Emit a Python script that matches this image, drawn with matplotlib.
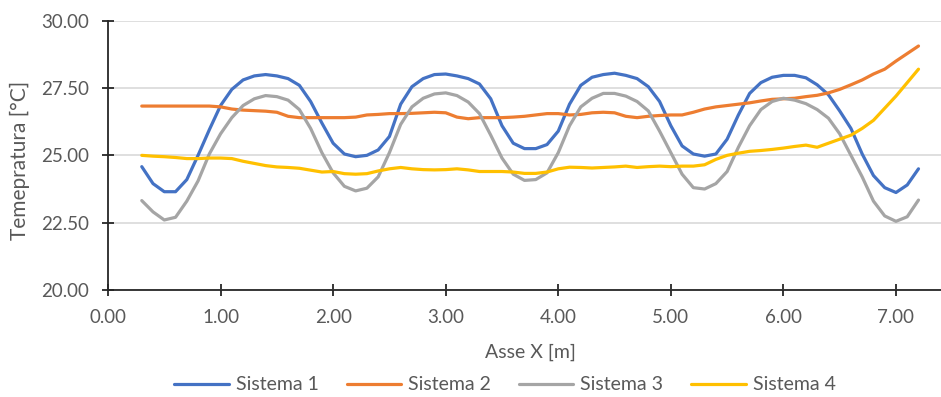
import numpy as np
import matplotlib.pyplot as plt

# ---------- Data ----------
x_m = np.round(np.arange(0.3, 7.21, 0.1), 2)

sistema_1 = [24.58, 23.95, 23.65, 23.65, 24.10, 25.00, 25.95, 26.85, 27.45, 27.80,
             27.95, 28.00, 27.95, 27.85, 27.60, 27.00, 26.20, 25.45, 25.05, 24.95,
             25.00, 25.20, 25.70, 26.90, 27.55, 27.85, 28.00, 28.02, 27.95, 27.85,
             27.65, 27.10, 26.10, 25.45, 25.25, 25.25, 25.40, 25.90, 26.90, 27.60,
             27.90, 28.00, 28.05, 27.97, 27.85, 27.55, 27.00, 26.10, 25.35, 25.05,
             24.97, 25.05, 25.60, 26.50, 27.30, 27.70, 27.90, 27.97, 27.97, 27.88,
             27.62, 27.25, 26.65, 26.00, 25.05, 24.25, 23.80, 23.62, 23.90, 24.50]

sistema_2 = [26.83, 26.83, 26.83, 26.83, 26.83, 26.83, 26.83, 26.80, 26.72, 26.68,
             26.66, 26.64, 26.60, 26.45, 26.40, 26.40, 26.40, 26.40, 26.40, 26.42,
             26.50, 26.52, 26.55, 26.55, 26.56, 26.58, 26.60, 26.58, 26.42, 26.36,
             26.40, 26.40, 26.40, 26.42, 26.45, 26.50, 26.55, 26.55, 26.50, 26.52,
             26.58, 26.60, 26.58, 26.45, 26.40, 26.45, 26.48, 26.50, 26.50, 26.60,
             26.72, 26.80, 26.85, 26.90, 26.95, 27.02, 27.08, 27.10, 27.12, 27.18,
             27.23, 27.32, 27.45, 27.62, 27.80, 28.02, 28.20, 28.50, 28.78, 29.06]

sistema_3 = [23.32, 22.90, 22.60, 22.70, 23.30, 24.05, 25.05, 25.80, 26.40, 26.85,
             27.10, 27.22, 27.18, 27.05, 26.70, 26.00, 25.10, 24.35, 23.85, 23.68,
             23.78, 24.20, 25.10, 26.15, 26.80, 27.12, 27.28, 27.32, 27.22, 26.98,
             26.55, 25.75, 24.90, 24.30, 24.07, 24.10, 24.35, 25.10, 26.10, 26.80,
             27.12, 27.30, 27.30, 27.20, 27.00, 26.65, 25.90, 25.10, 24.30, 23.80,
             23.75, 23.95, 24.40, 25.30, 26.10, 26.70, 27.00, 27.12, 27.05, 26.92,
             26.70, 26.38, 25.80, 25.00, 24.20, 23.30, 22.75, 22.55, 22.72, 23.34]

sistema_4 = [25.00, 24.97, 24.95, 24.92, 24.88, 24.88, 24.90, 24.90, 24.88, 24.78,
             24.70, 24.62, 24.57, 24.55, 24.52, 24.45, 24.38, 24.40, 24.32, 24.30,
             24.32, 24.42, 24.50, 24.55, 24.50, 24.47, 24.46, 24.47, 24.50, 24.46,
             24.40, 24.40, 24.40, 24.38, 24.33, 24.33, 24.38, 24.50, 24.56, 24.55,
             24.53, 24.55, 24.57, 24.60, 24.55, 24.58, 24.60, 24.58, 24.60, 24.60,
             24.65, 24.85, 25.00, 25.08, 25.15, 25.18, 25.22, 25.27, 25.33, 25.38,
             25.30, 25.45, 25.60, 25.75, 26.00, 26.30, 26.75, 27.20, 27.70, 28.20]

series_names = ["Sistema 1", "Sistema 2", "Sistema 3", "Sistema 4"]
x_ticks = [0, 1, 2, 3, 4, 5, 6, 7]
y_ticks = [20.0, 22.5, 25.0, 27.5, 30.0]

# ---------- Style ----------
COLORS = ["#4472C4", "#ED7D31", "#A5A5A5", "#FFC000"]
TEXT_C = "#595959"
AXIS_C = "#262626"
plt.rcParams['font.family'] = ['Lato', 'DejaVu Sans']

fig = plt.figure(figsize=(9.41, 3.97), dpi=100)
ax = fig.add_axes([108 / 941, 1 - 290 / 397, 1 - 108 / 941, (290 - 20.7) / 397])

for ys, name, c in zip([sistema_1, sistema_2, sistema_3, sistema_4], series_names, COLORS):
    ax.plot(x_m, ys, color=c, lw=2.3, label=name,
            solid_capstyle='round', solid_joinstyle='round')

ax.set_xlim(0, 7.4)
ax.set_ylim(20, 30)
ax.set_xticks(x_ticks)
ax.set_yticks(y_ticks)
ax.set_xticklabels([f"{v:.2f}" for v in x_ticks])
ax.set_yticklabels([f"{v:.2f}" for v in y_ticks])

ax.grid(axis='y', color="#D9D9D9", lw=1.2)
ax.set_axisbelow(True)
for s in ["top", "right"]:
    ax.spines[s].set_visible(False)
for s in ["left", "bottom"]:
    ax.spines[s].set_color(AXIS_C)
    ax.spines[s].set_linewidth(1.3)
    ax.spines[s].set_zorder(3)
ax.tick_params(direction='inout', length=9, width=1.3, color=AXIS_C,
               labelcolor=TEXT_C, labelsize=13.5)
ax.tick_params(axis='y', pad=9)
ax.tick_params(axis='x', pad=9)

# axis titles placed like the Excel chart
fig.text(530 / 941, 1 - 352 / 397, "Asse X [m]", color=TEXT_C, fontsize=14,
         ha='center', va='center')
fig.text(20 / 941, 1 - 160 / 397, "Temepratura [°C]", color=TEXT_C, fontsize=15,
         ha='center', va='center', rotation=90)

fig.legend(loc='center', bbox_to_anchor=(505 / 941, 1 - 385 / 397), ncol=4,
           frameon=False, fontsize=14, handlelength=2.8, columnspacing=1.45,
           handletextpad=0.35, labelcolor=TEXT_C)

fig.savefig("out.png", dpi=100)
